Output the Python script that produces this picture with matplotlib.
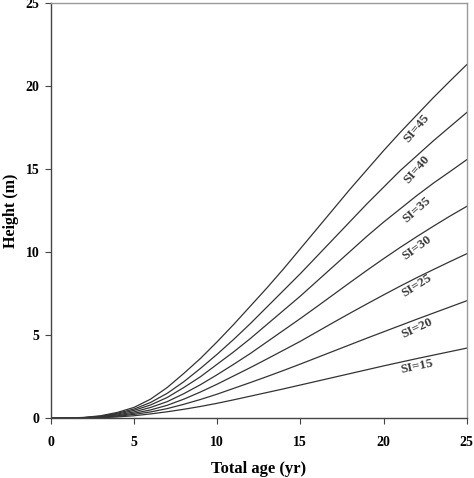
import numpy as np
import matplotlib
matplotlib.use("Agg")
import matplotlib.pyplot as plt

# -----------------------------
# Data
# -----------------------------
ages = list(range(0, 26))

site_index = [15, 20, 25, 30, 35, 40, 45]

h_si15 = [0, 0, 0.01, 0.03, 0.08, 0.15, 0.26, 0.39, 0.54, 0.71, 0.9, 1.11, 1.33,
          1.55, 1.77, 2.0, 2.23, 2.46, 2.69, 2.92, 3.15, 3.37, 3.59, 3.8, 4.01, 4.22]
h_si20 = [0, 0, 0.01, 0.05, 0.12, 0.23, 0.38, 0.58, 0.84, 1.13, 1.45, 1.8, 2.15,
          2.51, 2.88, 3.26, 3.65, 4.04, 4.43, 4.82, 5.2, 5.58, 5.96, 6.33, 6.7, 7.07]
h_si25 = [0, 0, 0.02, 0.06, 0.15, 0.3, 0.5, 0.78, 1.15, 1.58, 2.05, 2.55, 3.05,
          3.57, 4.1, 4.63, 5.2, 5.77, 6.33, 6.88, 7.42, 7.95, 8.46, 8.95, 9.43, 9.9]
h_si30 = [0, 0, 0.02, 0.08, 0.2, 0.38, 0.65, 1.0, 1.48, 2.02, 2.62, 3.25, 3.9,
          4.6, 5.3, 6.0, 6.72, 7.45, 8.18, 8.9, 9.6, 10.28, 10.93, 11.56, 12.17, 12.75]
h_si35 = [0, 0, 0.03, 0.1, 0.25, 0.47, 0.8, 1.25, 1.85, 2.5, 3.25, 4.0, 4.8,
          5.65, 6.5, 7.35, 8.25, 9.15, 10.05, 10.95, 11.8, 12.6, 13.4, 14.15, 14.85, 15.56]
h_si40 = [0, 0.01, 0.04, 0.12, 0.3, 0.55, 0.95, 1.5, 2.2, 3.0, 3.85, 4.75, 5.7,
          6.7, 7.7, 8.7, 9.75, 10.8, 11.85, 12.9, 13.9, 14.9, 15.8, 16.7, 17.55, 18.4]
h_si45 = [0, 0.01, 0.05, 0.15, 0.35, 0.65, 1.15, 1.85, 2.7, 3.6, 4.6, 5.65, 6.75,
          7.85, 9.0, 10.2, 11.4, 12.6, 13.8, 14.95, 16.1, 17.2, 18.25, 19.3, 20.3, 21.28]

curves = [h_si15, h_si20, h_si25, h_si30, h_si35, h_si40, h_si45]

# label anchor (age, height) and text angle
label_x = [22.0, 22.0, 22.0, 22.0, 22.0, 22.0, 22.0]
label_y = [3.11, 5.42, 7.97, 10.24, 12.55, 14.96, 17.47]
label_rot = [12, 25, 32, 36, 41, 49, 50]

x_ticks = [0, 5, 10, 15, 20, 25]
y_ticks = [0, 5, 10, 15, 20, 25]

# -----------------------------
# Plot
# -----------------------------
plt.rcParams["font.family"] = ["Liberation Serif", "DejaVu Serif"]

fig = plt.figure(figsize=(4.74, 4.78), dpi=100)
ax = fig.add_axes([0.107, 0.125, 0.8776, 0.869])

for h in curves:
    ax.plot(ages, h, color="#333333", lw=0.9)

for si, lx, ly, rot in zip(site_index, label_x, label_y, label_rot):
    ax.text(lx, ly, f"SI={si}", rotation=rot, ha="center", va="center",
            fontsize=9.5, fontweight="bold", color="#3a3a3a",
            rotation_mode="anchor")

ax.set_xlim(0, 25)
ax.set_ylim(0, 25)
ax.set_xticks(x_ticks)
ax.set_yticks(y_ticks)
ax.tick_params(direction="out", length=4, width=0.8, labelsize=10, color="#444444")
ax.tick_params(axis="x", pad=9)
ax.tick_params(axis="y", pad=4)
for lab in ax.get_xticklabels() + ax.get_yticklabels():
    lab.set_fontweight("bold")

ax.set_xlabel("Total age (yr)", fontsize=12, fontweight="bold")
ax.set_ylabel("Height (m)", fontsize=11.5, fontweight="bold")
ax.xaxis.set_label_coords(0.5, -0.103)
ax.yaxis.set_label_coords(-0.077, 0.5)

ax.spines["left"].set_color("#444444")
ax.spines["bottom"].set_color("#444444")
ax.spines["top"].set_color("#999999")
ax.spines["right"].set_color("#999999")
for s in ax.spines.values():
    s.set_linewidth(1.0)

fig.savefig("out.png", dpi=100)
